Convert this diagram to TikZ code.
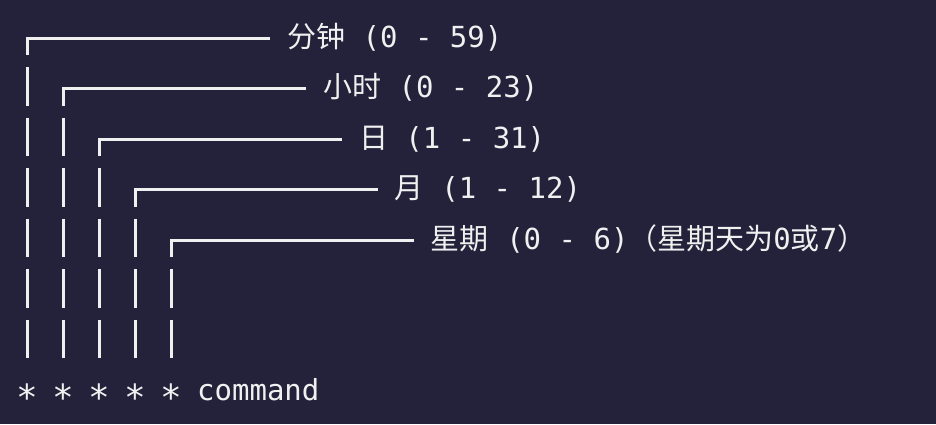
\documentclass[tikz,border=0pt]{standalone}
\usepackage{fontspec}
\setmainfont{DejaVu Sans Mono}
\newfontfamily\cjk{Noto Sans CJK SC}
\usepackage{tikz}
\usetikzlibrary{positioning, calc}
\definecolor{cBack}{HTML}{24223A}
\definecolor{cInk} {HTML}{F0F0F0}

\begin{document}
\begin{tikzpicture}[x=1pt, y=-1pt,
    wire/.style={draw=cInk, line width=3pt},
    field/.style={inner sep=0pt, text=cInk, anchor=base west,
                  font=\fontsize{29}{29}\selectfont},
    starmark/.style={inner sep=0pt, text=cInk, anchor=base,
                  font=\fontsize{36}{36}\selectfont}]
  \useasboundingbox[fill=cBack] (0,0) rectangle (936,424);
  % one bracket per crontab field
  \foreach \c/\txt in {0/{{\cjk 分钟} (0 - 59)},
                       1/{{\cjk 小时} (0 - 23)},
                       2/{{\cjk 日} (1 - 31)},
                       3/{{\cjk 月} (1 - 12)},
                       4/{{\cjk 星期} (0 - 6){\cjk （星期天为}0{\cjk 或}7{\cjk ）}}}{
    \coordinate (corner\c) at (27.5+35.9*\c, 38+50.5*\c);
    \coordinate (foot\c) at (27.5+35.9*\c, 358);
    \node[field] (lbl\c) at ($(corner\c)+(259.5,9)$) {\txt};
    \node[starmark] (star\c) at (27.5+35.9*\c, 410) {*};
    \draw[wire] ($(lbl\c.west |- corner\c)+(-17,0)$) -| ($(corner\c)+(0,17)$);
    \draw[wire, dash pattern=on 38.5pt off 12pt] ($(corner\c)+(0,29)$) -- (foot\c);
  }
  \node[field] (cmd) at (197,400) {command};
\end{tikzpicture}
\end{document}
